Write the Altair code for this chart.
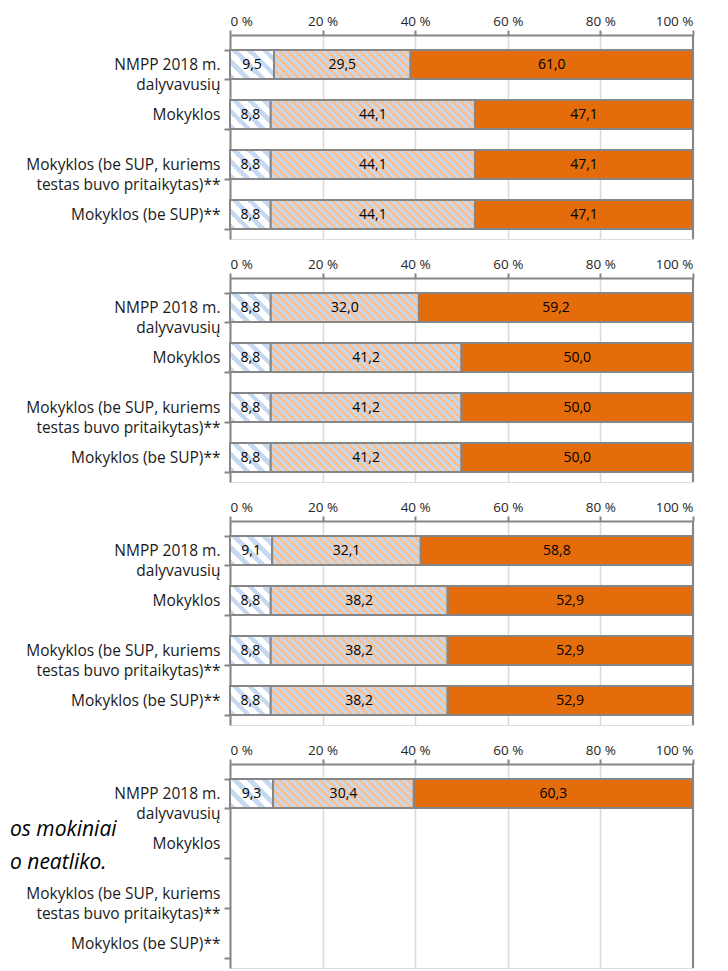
import math
import altair as alt
import pandas as pd

# ---- data ----
categories = [
    "NMPP 2018 m.|dalyvavusių",
    "Mokyklos",
    "Mokyklos (be SUP, kuriems|testas buvo pritaikytas)**",
    "Mokyklos (be SUP)**",
]
seg_low = [
    [9.5, 8.8, 8.8, 8.8],
    [8.8, 8.8, 8.8, 8.8],
    [9.1, 8.8, 8.8, 8.8],
    [9.3, None, None, None],
]
seg_mid = [
    [29.5, 44.1, 44.1, 44.1],
    [32.0, 41.2, 41.2, 41.2],
    [32.1, 38.2, 38.2, 38.2],
    [30.4, None, None, None],
]
seg_high = [
    [61.0, 47.1, 47.1, 47.1],
    [59.2, 50.0, 50.0, 50.0],
    [58.8, 52.9, 52.9, 52.9],
    [60.3, None, None, None],
]
tick_values = [0, 20, 40, 60, 80, 100]
note_text = "os mokiniai\no neatliko."

# ---- style ----
W, H = 463, 204
PAD_IN, PAD_OUT, ALIGN = 0.42, 0.25, 0.6
STEP = H / (4 - PAD_IN + 2 * PAD_OUT)
BAR_H = STEP * (1 - PAD_IN)
FONT = "Open Sans"
GRAY = "#868686"
ORANGE = "#E46C0A"
BLUE = "#C6D9F1"
PEACH = "#FAC090"
LEFT_EXT = 221


def stripes(value, period, col_a, col_b, frac_a):
    """Diagonal stripe fill (top-left to bottom-right) for a bar of this value."""
    w = value / 100 * W
    h = BAR_H
    r = h / w
    a = (1 + r) / (1 + r * r)
    n = (w + h) / period
    stops = []
    k = 0
    while k / n < 1:
        o0 = k / n
        o1 = min((k + frac_a) / n, 1)
        o2 = min((k + 1) / n, 1)
        stops += [
            alt.GradientStop(color=col_a, offset=o0),
            alt.GradientStop(color=col_a, offset=o1),
            alt.GradientStop(color=col_b, offset=o1),
            alt.GradientStop(color=col_b, offset=o2),
        ]
        k += 1
    return alt.LinearGradient(gradient="linear", stops=stops,
                              x1=0, y1=1, x2=a, y2=1 - a * r)


rows = []
for p in range(4):
    for i, cat in enumerate(categories):
        a, b, c = seg_low[p][i], seg_mid[p][i], seg_high[p][i]
        if a is None:
            continue
        rows.append(dict(panel=p, rid=f"{p}-{i}", cat=cat, seg=0, start=0.0, end=a, val=a))
        rows.append(dict(panel=p, rid=f"{p}-{i}", cat=cat, seg=1, start=a, end=a + b, val=b))
        rows.append(dict(panel=p, rid=f"{p}-{i}", cat=cat, seg=2, start=a + b, end=a + b + c, val=c))
df = pd.DataFrame(rows)
df["mid"] = (df["start"] + df["end"]) / 2
df["label"] = df["val"].map(lambda v: f"{v:.1f}".replace(".", ","))

x_enc = alt.X(
    "start:Q",
    scale=alt.Scale(domain=[0, 100], nice=False),
    axis=alt.Axis(
        orient="top", values=tick_values, labelExpr="datum.value + ' %'",
        title=None, grid=True, gridColor="#D9D9D9", gridWidth=1.5,
        domainColor=GRAY, domainWidth=2, tickColor=GRAY, tickWidth=2, tickSize=5,
        labelFontSize=13.5, labelColor="#262626", labelPadding=2, labelFont=FONT,
    ),
)
y_enc = alt.Y(
    "cat:N",
    sort=categories,
    scale=alt.Scale(domain=categories, paddingInner=PAD_IN, paddingOuter=PAD_OUT,
                    align=ALIGN),
    axis=alt.Axis(
        title=None, labelExpr="split(datum.label, '|')", labelLineHeight=20,
        tickBand="extent", domainColor=GRAY, domainWidth=2, tickColor=GRAY,
        tickWidth=2, tickSize=6, labelFontSize=15.5, labelColor="#1A1A1A",
        labelPadding=4, labelFont=FONT, labelLimit=400, minExtent=LEFT_EXT,
        maxExtent=LEFT_EXT, grid=False,
    ),
)


def panel(p):
    d = df[df["panel"] == p]
    base = alt.Chart(d)
    layers = []
    for _, row in d.iterrows():
        if row["seg"] == 2:
            continue
        if row["seg"] == 0:
            fill = stripes(row["val"], 15, BLUE, "#FFFFFF", 0.45)
        else:
            fill = stripes(row["val"], 8, PEACH, BLUE, 0.5)
        layers.append(
            base.transform_filter(
                (alt.datum.rid == row["rid"]) & (alt.datum.seg == int(row["seg"]))
            ).mark_bar(fill=fill, stroke=GRAY, strokeWidth=2).encode(
                x=x_enc, x2="end:Q", y=y_enc
            )
        )
    layers.append(
        base.transform_filter(alt.datum.seg == 2)
        .mark_bar(fill=ORANGE, stroke=GRAY, strokeWidth=2)
        .encode(x=x_enc, x2="end:Q", y=y_enc)
    )
    layers.append(
        alt.Chart(pd.DataFrame({"x": [100]}))
        .mark_rule(color=GRAY, strokeWidth=2)
        .encode(x=alt.X("x:Q", scale=alt.Scale(domain=[0, 100], nice=False)))
    )
    layers.append(
        base.mark_text(font=FONT, fontSize=14, color="#000000")
        .encode(x=alt.X("mid:Q"), y=y_enc, text="label:N")
    )
    if p == 3:
        layers.append(
            alt.Chart(pd.DataFrame({"t": [note_text]}))
            .mark_text(font=FONT, fontSize=21, fontStyle="italic", align="left",
                       baseline="alphabetic", lineBreak="\n", lineHeight=33,
                       color="#000000")
            .encode(x=alt.value(-LEFT_EXT + 1), y=alt.value(72), text="t:N")
        )
    return alt.layer(*layers).properties(width=W, height=H)


chart = (
    alt.vconcat(*[panel(p) for p in range(4)], spacing=15)
    .properties(padding={"left": 0, "top": 5, "right": 5, "bottom": 5})
    .configure_view(stroke="#D9D9D9", strokeWidth=1.5)
    .configure(font=FONT)
)

chart.save("out.html", embed_options={"renderer": "svg", "actions": False})
